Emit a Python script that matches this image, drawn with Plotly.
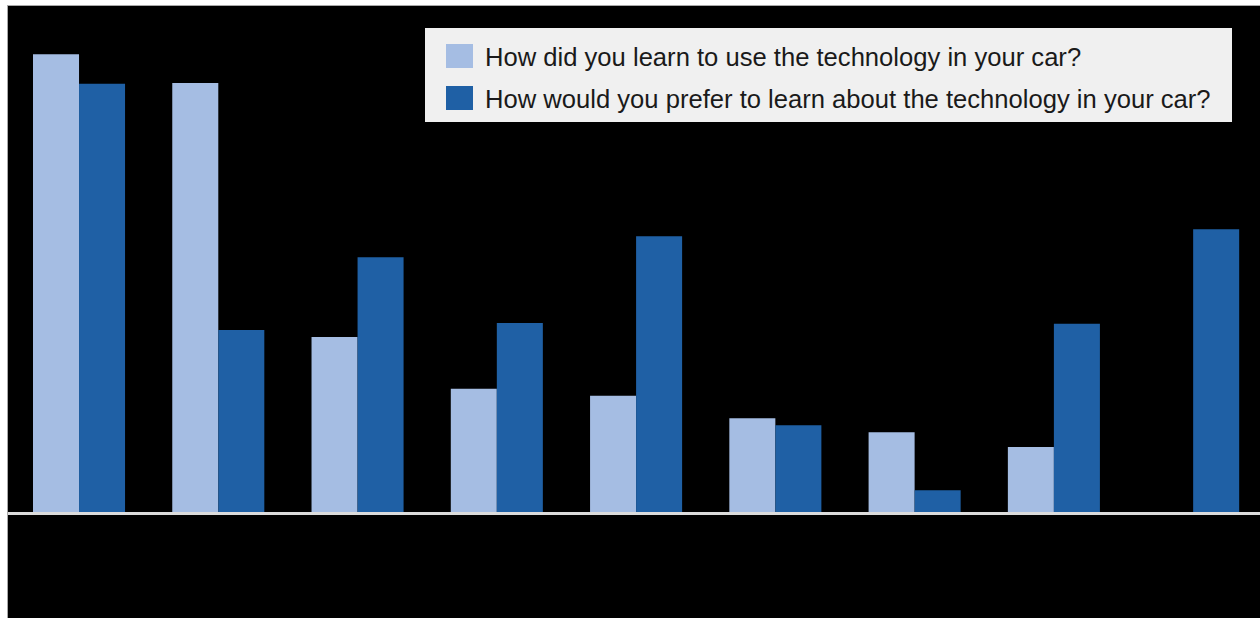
import plotly.graph_objects as go

categories = ["Option 1", "Option 2", "Option 3", "Option 4", "Option 5",
              "Option 6", "Option 7", "Option 8", "Option 9"]
learned = [65.4, 61.3, 25.0, 17.6, 16.6, 13.4, 11.4, 9.3, 0]
preferred = [61.2, 26.0, 36.4, 27.0, 39.4, 12.4, 3.1, 26.9, 40.4]
series_names = ["How did you learn to use the technology in your car?",
                "How would you prefer to learn about the technology in your car?"]

LIGHT = "#a5bde3"
DARK = "#1f60a5"

W, H = 1260, 618
ML, MT = 8, 6
PW, PH = W - ML, H - MT


def px(x):
    return (x - ML) / PW


def py(y):
    return (H - y) / PH


fig = go.Figure()
fig.add_trace(go.Bar(x=categories, y=learned, name=series_names[0],
                     marker=dict(color=LIGHT, line=dict(width=0))))
fig.add_trace(go.Bar(x=categories, y=preferred, name=series_names[1],
                     marker=dict(color=DARK, line=dict(width=0))))

shapes = [
    # baseline
    dict(type="line", xref="paper", yref="y", x0=0, x1=1, y0=-0.2, y1=-0.2,
         line=dict(color="#dcdcdc", width=3), layer="above"),
    # outer frame lines (top and left)
    dict(type="line", xref="paper", yref="paper", x0=px(7), x1=1.01, y0=py(5.5), y1=py(5.5),
         line=dict(color="#a8a8a8", width=1), layer="above"),
    dict(type="line", xref="paper", yref="paper", x0=px(7.5), x1=px(7.5), y0=-0.01, y1=py(5.5),
         line=dict(color="#a8a8a8", width=1), layer="above"),
    # legend box
    dict(type="rect", xref="paper", yref="paper", x0=px(425), x1=px(1232), y0=py(122), y1=py(28),
         fillcolor="#f0f0f0", line=dict(width=0), layer="above"),
    dict(type="rect", xref="paper", yref="paper", x0=px(446), x1=px(473), y0=py(68), y1=py(44),
         fillcolor=LIGHT, line=dict(width=0), layer="above"),
    dict(type="rect", xref="paper", yref="paper", x0=px(446), x1=px(473), y0=py(110), y1=py(86),
         fillcolor=DARK, line=dict(width=0), layer="above"),
]

annotations = [
    dict(xref="paper", yref="paper", x=px(483), y=py(57), text=series_names[0],
         xanchor="left", yanchor="middle", showarrow=False,
         font=dict(family="Liberation Sans, Arial, sans-serif", size=25.6, color="#1a1a1a")),
    dict(xref="paper", yref="paper", x=px(483), y=py(99), text=series_names[1],
         xanchor="left", yanchor="middle", showarrow=False,
         font=dict(family="Liberation Sans, Arial, sans-serif", size=25.6, color="#1a1a1a")),
]

fig.update_layout(
    width=W, height=H,
    margin=dict(l=ML, r=0, t=MT, b=0, pad=0),
    paper_bgcolor="white",
    plot_bgcolor="black",
    barmode="group",
    bargap=0.339,
    bargroupgap=0,
    showlegend=False,
    shapes=shapes,
    annotations=annotations,
    xaxis=dict(range=[-0.51, 8.48], showticklabels=False, showgrid=False,
               zeroline=False, showline=False, ticks=""),
    yaxis=dict(range=[-15.14, 72.29], showticklabels=False, showgrid=False,
               zeroline=False, showline=False, ticks=""),
)

fig.write_html("out.html")
